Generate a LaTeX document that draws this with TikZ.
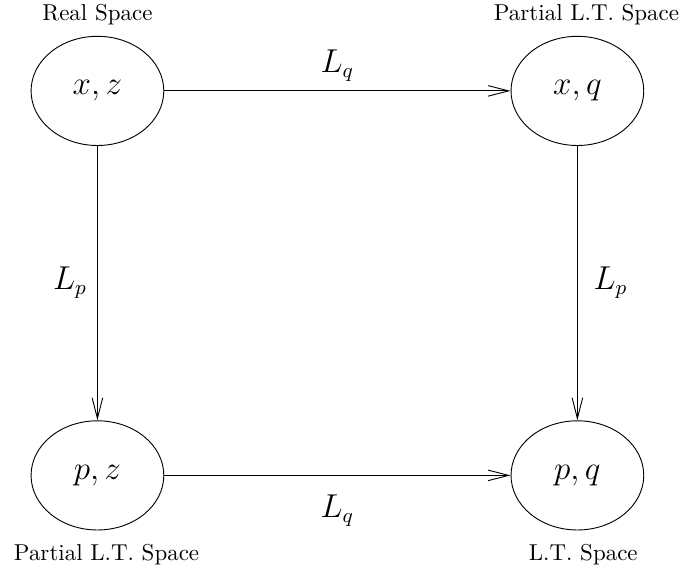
\documentclass[tikz,border=0pt]{standalone}
\usetikzlibrary{positioning, shapes.geometric, arrows.meta}
\usepackage{amsmath}

\begin{document}
\begin{tikzpicture}[
    space/.style={draw, ellipse, minimum width=2.03cm, minimum height=1.67cm, inner sep=0pt, font=\fontsize{15}{18}\selectfont},
    spacename/.style={inner sep=2pt},
    map/.style={-{Straight Barb[length=9pt, width=4.6pt]}},
    maplabel/.style={font=\fontsize{13.5}{16}\selectfont}
  ]
  \useasboundingbox (-1.49,-7.35) rectangle (8.94,1.39);

  % the four spaces
  \node[space] (xz) at (0,0) {$x,z$};
  \node[space] (xq) at (7.34,0) {$x,q$};
  \node[space] (pz) at (0,-5.88) {$p,z$};
  \node[space] (pq) at (7.34,-5.88) {$p,q$};

  \node[spacename, above=2.6pt of xz] (realsp) {Real Space};
  \node[spacename, above=2.6pt of xq, xshift=0.14cm] (partialq) {Partial L.T. Space};
  \node[spacename, below=4pt of pz, xshift=0.14cm] (partialp) {Partial L.T. Space};
  \node[spacename, below=4pt of pq, xshift=0.09cm] (ltsp) {L.T. Space};

  % transforms
  \draw[map] (xz) -- node[maplabel, above=0.5pt] (lqtop) {$L_q$} (xq);
  \draw[map] (pz) -- node[maplabel, below=5pt] (lqbot) {$L_q$} (pq);
  \draw[map] (xz) -- node[maplabel, left=1pt] (lpleft) {$L_p$} (pz);
  \draw[map] (xq) -- node[maplabel, right=3.5pt] (lpright) {$L_p$} (pq);
\end{tikzpicture}
\end{document}
